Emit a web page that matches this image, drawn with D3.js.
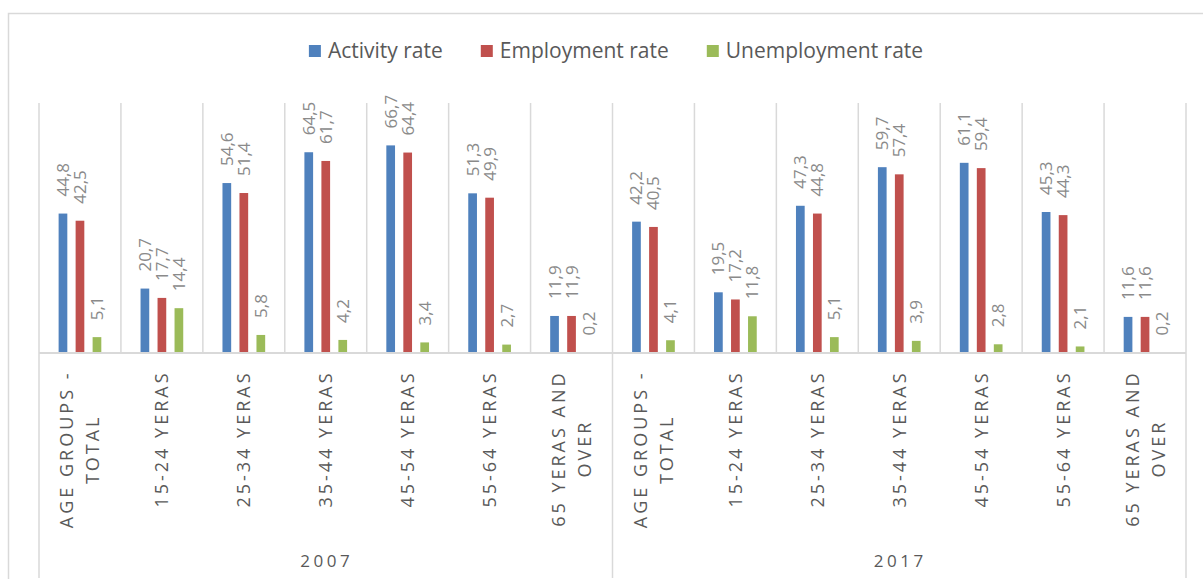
<!DOCTYPE html>
<html>
<head>
<meta charset="utf-8">
<script src="https://cdn.jsdelivr.net/npm/d3@7/dist/d3.min.js"></script>
<style>
  html, body { margin: 0; padding: 0; background: #fff; }
  svg { display: block; font-family: "Open Sans", "Liberation Sans", sans-serif; }
</style>
</head>
<body>
<svg id="chart" width="1203" height="579"></svg>
<script>
// Labour market rates by age group, 2007 and 2017 (%)
const years = ["2007", "2017"];
const ageGroups = ["AGE GROUPS - TOTAL", "15-24 YERAS", "25-34 YERAS", "35-44 YERAS",
                   "45-54 YERAS", "55-64 YERAS", "65 YERAS AND OVER"];
const seriesNames = ["Activity rate", "Employment rate", "Unemployment rate"];
const seriesColors = ["#4f81bd", "#c0504d", "#9bbb59"];

const activity2007     = [44.8, 20.7, 54.6, 64.5, 66.7, 51.3, 11.9];
const employment2007   = [42.5, 17.7, 51.4, 61.7, 64.4, 49.9, 11.9];
const unemployment2007 = [5.1, 14.4, 5.8, 4.2, 3.4, 2.7, 0.2];
const activity2017     = [42.2, 19.5, 47.3, 59.7, 61.1, 45.3, 11.6];
const employment2017   = [40.5, 17.2, 44.8, 57.4, 59.4, 44.3, 11.6];
const unemployment2017 = [4.1, 11.8, 5.1, 3.9, 2.8, 2.1, 0.2];

const valuesByYear = {
  "2007": [activity2007, employment2007, unemployment2007],
  "2017": [activity2017, employment2017, unemployment2017]
};

// flat rows: one per (year, age group)
const rows = [];
years.forEach(yr => ageGroups.forEach((ag, i) => {
  rows.push({ key: yr + "|" + ag, year: yr, age: ag,
              values: valuesByYear[yr].map(s => s[i]) });
}));

const svg = d3.select("#chart");
const fmt = v => d3.format(".1f")(v).replace(".", ",");

// outer chart frame
svg.append("rect")
  .attr("x", 8.5).attr("y", 13.5).attr("width", 1200).attr("height", 572)
  .attr("fill", "none").attr("stroke", "#d9d9d9").attr("stroke-width", 1.5);

const plotLeft = 39, plotRight = 1186, baseY = 353, topY = 104;

const x0 = d3.scaleBand().domain(rows.map(r => r.key)).range([plotLeft, plotRight]).padding(0);
const x1 = d3.scaleBand().domain(d3.range(seriesNames.length))
  .range([0, x0.bandwidth()]).paddingInner(0.488).paddingOuter(1.154);
const y = d3.scaleLinear().domain([0, 80]).range([baseY, topY]);

// vertical gridlines at category boundaries
const boundaries = rows.map(r => x0(r.key)).concat([plotRight]);
svg.append("g").selectAll("line").data(boundaries).join("line")
  .attr("x1", d => d).attr("x2", d => d)
  .attr("y1", y(80) - 1).attr("y2", baseY)
  .attr("stroke", "#d9d9d9").attr("stroke-width", 1.5);

// group separators extending through the axis labels
const groupEdges = [plotLeft, x0(rows[ageGroups.length].key), plotRight];
svg.append("g").selectAll("line").data(groupEdges).join("line")
  .attr("x1", d => d).attr("x2", d => d)
  .attr("y1", baseY).attr("y2", 578)
  .attr("stroke", "#d9d9d9").attr("stroke-width", 1.5);

// bars
const groups = svg.append("g").selectAll("g").data(rows).join("g")
  .attr("transform", d => `translate(${x0(d.key)},0)`);

groups.selectAll("rect").data(d => d.values.map((v, i) => ({ v, i }))).join("rect")
  .attr("x", d => x1(d.i))
  .attr("width", x1.bandwidth())
  .attr("y", d => y(d.v))
  .attr("height", d => baseY - y(d.v))
  .attr("fill", d => seriesColors[d.i]);

// rotated value labels above each bar
groups.selectAll("text").data(d => d.values.map((v, i) => ({ v, i }))).join("text")
  .attr("transform", d => `translate(${x1(d.i) + x1.bandwidth() / 2 + 6},${y(d.v) - 17}) rotate(-90)`)
  .attr("text-anchor", "start")
  .attr("font-size", 17)
  .attr("fill", "#8a8a8a")
  .text(d => fmt(d.v));

// baseline
svg.append("line")
  .attr("x1", plotLeft).attr("x2", plotRight)
  .attr("y1", baseY).attr("y2", baseY)
  .attr("stroke", "#d9d9d9").attr("stroke-width", 2);

// category labels (rotated, word-wrapped)
const catFont = 18, catSpacing = 3, wrapWidth = 175, labelTop = 372;
const measurer = svg.append("text").attr("font-size", catFont)
  .attr("letter-spacing", catSpacing).attr("visibility", "hidden");
function textLen(s) { measurer.text(s); return measurer.node().getComputedTextLength(); }
function wrap(s) {
  const words = s.split(" ");
  const lines = [];
  let cur = "";
  words.forEach(w => {
    const trial = cur ? cur + " " + w : w;
    if (cur && textLen(trial) > wrapWidth) { lines.push(cur); cur = w; }
    else cur = trial;
  });
  lines.push(cur);
  return lines;
}

rows.forEach(r => {
  const lines = wrap(r.age);
  const maxLen = d3.max(lines, l => textLen(l) - catSpacing);
  const cx = x0(r.key) + x0.bandwidth() / 2;
  const midY = labelTop + maxLen / 2;
  const lineGap = 26;
  lines.forEach((l, i) => {
    const off = (i - (lines.length - 1) / 2) * lineGap;
    svg.append("text")
      .attr("transform", `translate(${cx + off + 6.5},${midY}) rotate(-90)`)
      .attr("text-anchor", "middle")
      .attr("font-size", catFont)
      .attr("letter-spacing", catSpacing)
      .attr("fill", "#595959")
      .text(l);
  });
});
measurer.remove();

// year labels
years.forEach((yr, k) => {
  const xa = groupEdges[k], xb = groupEdges[k + 1];
  svg.append("text")
    .attr("x", (xa + xb) / 2 + 1).attr("y", 567)
    .attr("text-anchor", "middle")
    .attr("font-size", 17)
    .attr("letter-spacing", 3.5)
    .attr("fill", "#595959")
    .text(yr);
});

// legend
const legend = svg.append("g");
const legFont = 21, sq = 12, sqGap = 7, itemGap = 38;
let lx = 0;
seriesNames.forEach((name, i) => {
  const g = legend.append("g").attr("transform", `translate(${lx},0)`);
  g.append("rect").attr("x", 0).attr("y", -sq / 2).attr("width", sq).attr("height", sq)
    .attr("fill", seriesColors[i]);
  const t = g.append("text").attr("x", sq + sqGap).attr("y", 0).attr("dy", "0.35em")
    .attr("font-size", legFont).attr("fill", "#595959").text(name);
  lx += sq + sqGap + t.node().getComputedTextLength() + itemGap;
});
const legWidth = lx - itemGap;
legend.attr("transform", `translate(${616 - legWidth / 2},51)`);
</script>
</body>
</html>
